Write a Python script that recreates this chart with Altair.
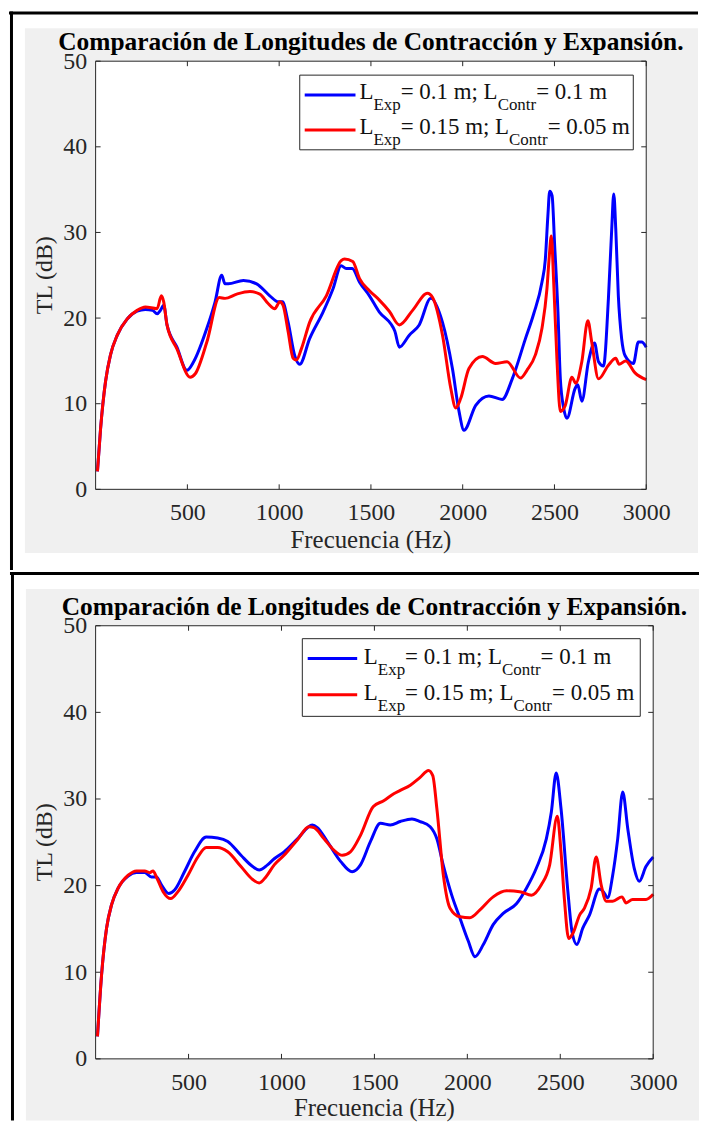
import altair as alt
import pandas as pd

TITLE = "Comparación de Longitudes de Contracción y Expansión."
X_TITLE = "Frecuencia (Hz)"
Y_TITLE = "TL (dB)"
X_TICKS = [500, 1000, 1500, 2000, 2500, 3000]
Y_TICKS = [0, 10, 20, 30, 40, 50]
LEGEND_PARTS = [
    ["L", "Exp", "= 0.1 m; L", "Contr", "= 0.1 m"],
    ["L", "Exp", "= 0.15 m; L", "Contr", "= 0.05 m"],
]
COLORS = ["#0000ff", "#ff0000"]

# ---------------- panel 1 ----------------
P1_BLUE_F = [10, 27, 54, 81, 118, 172, 226, 271, 310, 335, 353, 371, 389, 443, 497, 534, 606, 651, 687,
             705, 723, 805, 877, 949, 995, 1018, 1049, 1085, 1112, 1166, 1239, 1293, 1338, 1365, 1398,
             1438, 1492, 1546, 1609, 1630, 1655, 1709, 1763, 1826, 1890, 1944, 1980, 2007, 2071, 2143,
             2215, 2270, 2342, 2387, 2432, 2450, 2464, 2474, 2487, 2501, 2519, 2532, 2550, 2568, 2613,
             2627, 2649, 2685, 2718, 2740, 2767, 2794, 2812, 2823, 2834, 2848, 2866, 2885, 2930, 2957,
             2975, 3000]
P1_BLUE_TL = [2.1, 7.1, 12.6, 15.7, 18.0, 19.9, 20.8, 21.0, 20.9, 20.5, 20.9, 21.5, 19.2, 16.6, 13.9, 14.9,
              18.8, 21.9, 25.0, 24.0, 24.0, 24.4, 24.0, 22.6, 21.9, 21.9, 19.5, 15.6, 14.6, 17.6, 20.7,
              23.4, 26.1, 25.8, 25.8, 24.2, 22.6, 20.7, 19.3, 18.5, 16.6, 18.0, 19.2, 22.3, 19.5, 14.1,
              9.1, 6.9, 9.8, 10.9, 10.5, 12.9, 17.6, 20.5, 24.2, 26.8, 31.9, 34.8, 34.3, 28.5, 20.7, 12.9,
              9.5, 8.3, 11.8, 12.2, 10.3, 14.9, 17.1, 14.9, 14.4, 22.3, 30.4, 34.5, 30.4, 22.6, 17.6, 15.6,
              14.7, 17.2, 17.2, 16.6]
P1_RED_F = [10, 27, 54, 81, 118, 172, 226, 271, 335, 358, 371, 389, 443, 515, 543, 606, 674, 705, 769,
            841, 895, 940, 976, 1004, 1021, 1049, 1076, 1094, 1121, 1166, 1257, 1338, 1356, 1401, 1438,
            1492, 1546, 1600, 1655, 1727, 1808, 1836, 1890, 1935, 1962, 1989, 2034, 2107, 2179, 2242,
            2315, 2350, 2396, 2432, 2459, 2472, 2483, 2495, 2514, 2532, 2559, 2595, 2616, 2649, 2682,
            2703, 2740, 2794, 2834, 2852, 2888, 2939, 3000]
P1_RED_TL = [2.1, 7.1, 12.6, 15.7, 18.0, 19.9, 20.9, 21.3, 21.1, 22.6, 21.9, 19.2, 16.4, 13.1, 13.5, 17.2,
             22.4, 22.3, 22.8, 23.1, 22.8, 21.7, 21.1, 21.9, 21.5, 18.4, 15.3, 15.1, 16.4, 19.5, 22.6,
             26.7, 26.9, 26.6, 24.6, 23.2, 22.1, 20.8, 19.2, 20.9, 22.9, 22.4, 18.0, 11.8, 9.5, 10.6,
             14.1, 15.5, 14.7, 14.9, 13.0, 13.9, 15.7, 18.8, 23.4, 27.3, 29.6, 24.6, 14.9, 9.1, 9.8,
             13.1, 12.4, 14.9, 19.7, 17.2, 12.9, 14.5, 15.3, 14.6, 15.0, 13.6, 12.8]

# ---------------- panel 2 ----------------
P2_BLUE_F = [10, 32, 59, 86, 121, 175, 220, 264, 300, 327, 354, 393, 425, 478, 532, 595, 657, 711, 782,
             845, 880, 925, 961, 1014, 1086, 1166, 1193, 1246, 1318, 1380, 1425, 1479, 1532, 1586, 1639,
             1702, 1746, 1800, 1836, 1871, 1916, 1961, 2005, 2041, 2086, 2139, 2193, 2264, 2318, 2371,
             2425, 2452, 2478, 2504, 2541, 2563, 2589, 2621, 2657, 2711, 2732, 2755, 2782, 2809, 2836,
             2863, 2898, 2925, 2961, 3000]
P2_BLUE_TL = [2.6, 9.7, 15.1, 17.8, 19.7, 21.1, 21.5, 21.5, 21.0, 21.0, 20.1, 19.1, 19.5, 21.6, 23.9,
              25.6, 25.5, 25.1, 23.5, 22.2, 21.8, 22.4, 23.1, 23.9, 25.4, 27.0, 26.7, 25.1, 22.8, 21.6,
              22.4, 25.1, 27.2, 27.0, 27.4, 27.7, 27.4, 26.8, 25.4, 22.3, 18.9, 16.2, 13.6, 11.8, 13.2,
              15.5, 16.8, 17.9, 19.7, 22.0, 25.4, 28.5, 33.0, 28.9, 19.3, 14.7, 13.2, 15.1, 16.6, 19.6,
              19.3, 18.6, 21.2, 25.4, 30.8, 26.6, 22.0, 20.5, 22.2, 23.3]
P2_RED_F = [10, 32, 59, 86, 121, 175, 220, 264, 291, 309, 327, 363, 404, 443, 497, 550, 595, 657, 711,
            782, 845, 880, 916, 961, 1014, 1086, 1148, 1175, 1229, 1282, 1327, 1371, 1425, 1493, 1550,
            1604, 1639, 1693, 1746, 1791, 1814, 1836, 1871, 1907, 1961, 2014, 2068, 2139, 2211, 2282,
            2345, 2398, 2443, 2484, 2504, 2523, 2545, 2568, 2604, 2630, 2666, 2693, 2720, 2747, 2782,
            2832, 2854, 2889, 2961, 3000]
P2_RED_TL = [2.6, 9.7, 15.1, 17.8, 19.7, 21.2, 21.7, 21.7, 21.5, 21.7, 21.0, 19.3, 18.5, 19.3, 21.2,
             23.3, 24.4, 24.4, 23.9, 22.2, 20.7, 20.3, 21.0, 22.4, 23.5, 25.3, 26.8, 26.7, 25.4, 24.1,
             23.5, 23.9, 25.8, 29.1, 29.8, 30.6, 31.0, 31.6, 32.5, 33.3, 32.7, 28.9, 21.2, 17.4, 16.4,
             16.3, 17.2, 18.7, 19.4, 19.3, 18.9, 20.1, 22.4, 28.0, 23.9, 18.2, 13.9, 14.5, 16.6, 17.4,
             19.7, 23.3, 20.1, 18.2, 18.2, 18.7, 18.0, 18.4, 18.4, 19.0]

SERIF = "Liberation Serif"
AX = "#262626"
GRAY = "#f0f0f0"

# Times / Liberation Serif advance widths (per 1000 em)
ADV = {" ": 250, "=": 564, ".": 250, "m": 778, ";": 278, "L": 611, "E": 611, "x": 500, "p": 500,
       "C": 667, "o": 500, "n": 500, "t": 278, "r": 333}


def tw(s, size):
    return sum(ADV.get(ch, 500) for ch in s) * size / 1000.0


def one():
    return alt.Chart(pd.DataFrame({"k": [0]}))


def box(x0, x1, y0, y1, fill):
    return one().mark_rect(fill=fill, strokeWidth=0).encode(
        x=alt.value(x0), x2=alt.value(x1), y=alt.value(y0), y2=alt.value(y1))


def panel(bf, bt, rf, rt, g):
    W, H = g["W"], g["H"]
    xs = alt.Scale(domain=[0, 3000], nice=False, zero=False)
    ys = alt.Scale(domain=[0, 50], nice=False, zero=False)
    xaxis = alt.Axis(values=X_TICKS, title=None, grid=False, domain=False, ticks=False, tickSize=0,
                     format="d", labelFont=SERIF, labelFontSize=24, labelColor=AX,
                     labelPadding=g["xlabpad"], labelBaseline="alphabetic", labelFlush=False, zindex=1)
    yaxis = alt.Axis(values=Y_TICKS, title=None, grid=False, domain=False, ticks=False, tickSize=0,
                     format="d", labelFont=SERIF, labelFontSize=24, labelColor=AX, labelPadding=9,
                     labelFlush=False, zindex=1)
    layers = []
    # white page, black frame lines (filled rects: exact bounds)
    layers.append(box(g["fx0"], g["fx1"], g["fy0"], g["fy1"], "white"))
    layers.append(box(g["fx0"], g["fx1"], g["fy0"], g["fy0"] + 3, "black"))
    layers.append(box(g["vx"], g["vx"] + 3, g["fy0"], g["fy1"], "black"))
    # gray figure background
    layers.append(box(g["gx0"], g["gx1"], g["gy0"], g["gy1"], GRAY))
    # white plot area
    layers.append(box(0, W, 0, H, "white"))
    # inward ticks
    xt = alt.Chart(pd.DataFrame({"t": X_TICKS}))
    yt = alt.Chart(pd.DataFrame({"v": Y_TICKS}))
    layers.append(xt.mark_rule(color=AX, strokeWidth=1).encode(
        x=alt.X("t:Q", scale=xs, axis=xaxis), y=alt.value(H), y2=alt.value(H - 5)))
    layers.append(xt.mark_rule(color=AX, strokeWidth=1).encode(
        x=alt.X("t:Q", scale=xs, axis=xaxis), y=alt.value(0), y2=alt.value(5)))
    layers.append(yt.mark_rule(color=AX, strokeWidth=1).encode(
        y=alt.Y("v:Q", scale=ys, axis=yaxis), x=alt.value(0), x2=alt.value(5)))
    layers.append(yt.mark_rule(color=AX, strokeWidth=1).encode(
        y=alt.Y("v:Q", scale=ys, axis=yaxis), x=alt.value(W - 5), x2=alt.value(W)))
    # curves
    for f, tl, c in [(bf, bt, COLORS[0]), (rf, rt, COLORS[1])]:
        layers.append(alt.Chart(pd.DataFrame({"f": f, "tl": tl})).mark_line(
            color=c, strokeWidth=3, interpolate="monotone").encode(
            x=alt.X("f:Q", scale=xs, axis=xaxis), y=alt.Y("tl:Q", scale=ys, axis=yaxis)))
    # plot border
    layers.append(one().mark_rect(fillOpacity=0, stroke=AX, strokeWidth=1).encode(
        x=alt.value(0), x2=alt.value(W), y=alt.value(0), y2=alt.value(H)))
    # legend
    lg = g["leg"]
    bx0, bx1, by0, by1 = lg["box"]
    layers.append(one().mark_rect(fill="white", stroke=AX, strokeWidth=1).encode(
        x=alt.value(bx0), x2=alt.value(bx1), y=alt.value(by0), y2=alt.value(by1)))
    MAIN, SUB = 23, 17
    for i, parts in enumerate(LEGEND_PARTS):
        layers.append(one().mark_rule(color=COLORS[i], strokeWidth=3).encode(
            x=alt.value(lg["lx"][0]), x2=alt.value(lg["lx"][1]), y=alt.value(lg["ly"][i])))
        xpos = lg["tx"]
        for j, p in enumerate(parts):
            sub = (j % 2 == 1)
            size = SUB if sub else MAIN
            ypos = lg["ty"][i] + (11.3 if sub else 0)
            layers.append(alt.Chart(pd.DataFrame({"s": [p]})).mark_text(
                font=SERIF, fontSize=size, color="#111111", align="left", baseline="alphabetic").encode(
                text="s:N", x=alt.value(xpos), y=alt.value(ypos)))
            xpos += tw(p, size)
    # titles
    layers.append(alt.Chart(pd.DataFrame({"s": [TITLE]})).mark_text(
        font=SERIF, fontSize=25.5, fontWeight="bold", color="black", align="center",
        baseline="alphabetic").encode(text="s:N", x=alt.value(W / 2), y=alt.value(g["title_y"])))
    layers.append(alt.Chart(pd.DataFrame({"s": [X_TITLE]})).mark_text(
        font=SERIF, fontSize=25, color=AX, align="center", baseline="alphabetic").encode(
        text="s:N", x=alt.value(W / 2), y=alt.value(g["xt_y"])))
    layers.append(alt.Chart(pd.DataFrame({"s": [Y_TITLE]})).mark_text(
        font=SERIF, fontSize=24, color=AX, align="center", baseline="middle", angle=270).encode(
        text="s:N", x=alt.value(g["yt_x"]), y=alt.value(H / 2)))
    return alt.layer(*layers).properties(width=W, height=H)


# total width 692 px (page 8 -> 700): the widest the page shows without shrinking the svg
G1 = dict(W=553, H=430, fx0=-87, fx1=605, fy0=-50, fy1=511, vx=-86,
          gx0=-71, gx1=605, gy0=-33, gy1=494, xlabpad=30, title_y=-11.3, xt_y=488.7, yt_x=-51,
          leg=dict(box=(205, 540, 14, 89), lx=(210, 261), ly=(34, 69), tx=265, ty=(38, 72.7)))
G2 = dict(W=560, H=435, fx0=-86, fx1=606, fy0=-54, fy1=497, vx=-85,
          gx0=-70, gx1=606, gy0=-37, gy1=497, xlabpad=31, title_y=-11, xt_y=492.5, yt_x=-50.5,
          leg=dict(box=(207.6, 547, 13, 91), lx=(213, 262.7), ly=(33, 69.3), tx=269.4, ty=(38.4, 74.7)))

p1 = panel(P1_BLUE_F, P1_BLUE_TL, P1_RED_F, P1_RED_TL, G1)
p2 = panel(P2_BLUE_F, P2_BLUE_TL, P2_RED_F, P2_RED_TL, G2)

chart = alt.vconcat(p1, p2, spacing=0).properties(padding=0, background="white").configure_view(
    stroke="transparent").configure_concat(spacing=0)

chart.save("out.html", embed_options={"renderer": "svg", "actions": False})
